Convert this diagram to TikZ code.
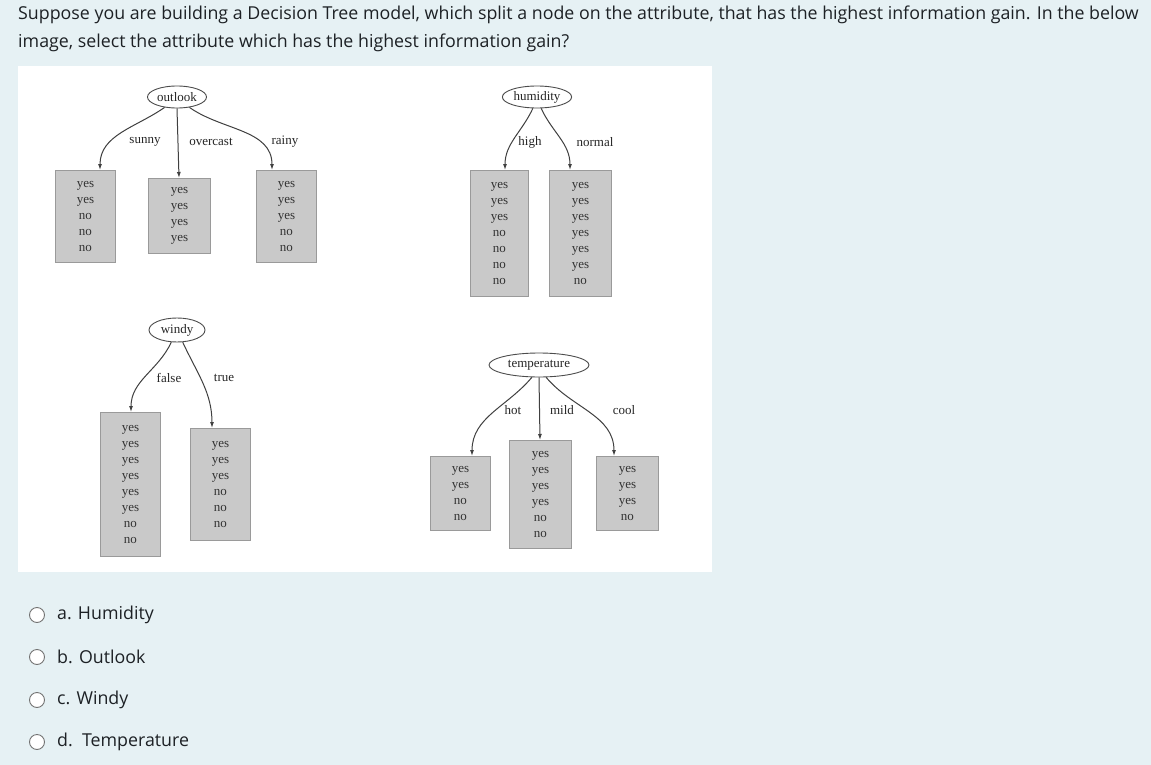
\documentclass[tikz,border=0pt]{standalone}
\usepackage{fontspec}
\setmainfont{Open Sans}
\newfontfamily\ser{Liberation Serif}
\usetikzlibrary{arrows.meta,shapes.geometric}
\definecolor{bg}{HTML}{E6F1F4}
\definecolor{boxf}{HTML}{C9C9C9}
\definecolor{boxd}{HTML}{9A9A9A}
\definecolor{txt}{HTML}{1D2125}
\tikzset{
 leaf/.style={draw=boxd,fill=boxf,line width=0.9pt,inner sep=0pt,anchor=north west,font=\ser\fontsize{13}{16}\selectfont,text=black!80,align=center},
 attr/.style={draw=black!70,ellipse,line width=0.9pt,inner sep=1pt,font=\ser\fontsize{13}{13}\selectfont,text=black!85},
 br/.style={font=\ser\fontsize{13}{13}\selectfont,text=black!85},
 arr/.style={-{Latex[length=6pt,width=4pt]},line width=1pt,draw=black!75},
 q/.style={font=\fontsize{17.8}{20}\selectfont,text=txt,anchor=west,inner sep=0pt},
 rad/.style={circle,draw=black!55,line width=0.9pt,fill=white,minimum size=15pt,inner sep=0pt}
}
\begin{document}
\begin{tikzpicture}[x=1pt,y=-1pt]
\fill[bg] (0,0) rectangle (1151,765);
\useasboundingbox (0,0) rectangle (1151,765);
\node[q] (q1) at (18,15) {Suppose you are building a Decision Tree model, which split a node on the attribute, that has the highest information gain. In the below};
\node[q] (q2) at (18,43) {image, select the attribute which has the highest information gain?};
\fill[white] (18,66) rectangle (712,572);
% outlook
\node[attr,minimum width=58pt,minimum height=22pt] (o) at (177,97) {outlook};
\node[leaf,minimum width=60pt,minimum height=92pt] (o1) at (55,170) {yes\\yes\\no\\no\\no};
\node[leaf,minimum width=62pt,minimum height=75pt] (o2) at (148,178) {yes\\yes\\yes\\yes};
\node[leaf,minimum width=60pt,minimum height=92pt] (o3) at (256,170) {yes\\yes\\yes\\no\\no};
\coordinate (o1t) at (100,170); \coordinate (o2t) at (179,178); \coordinate (o3t) at (272,170);
\draw[arr] (o.-140) to[out=215,in=90] (o1t);
\draw[arr] (o.south) -- (o2t);
\draw[arr] (o.-40) to[out=-35,in=90] (o3t);
\node[br] (l1) at (145,142) {sunny};
\node[br] (l2) at (211,142) {overcast};
\node[br] (l3) at (285,142) {rainy};
% humidity
\node[attr,minimum width=68pt,minimum height=22pt] (h) at (537,97) {humidity};
\node[leaf,minimum width=58pt,minimum height=126pt] (h1) at (470,170) {yes\\yes\\yes\\no\\no\\no\\no};
\node[leaf,minimum width=62pt,minimum height=126pt] (h2) at (549,170) {yes\\yes\\yes\\yes\\yes\\yes\\no};
\coordinate (h1t) at (505,170); \coordinate (h2t) at (570,170);
\draw[arr] (h.-110) to[out=245,in=90] (h1t);
\draw[arr] (h.-70) to[out=-65,in=90] (h2t);
\node[br] (l4) at (530,142) {high};
\node[br] (l5) at (595,142) {normal};
% windy
\node[attr,minimum width=56pt,minimum height=24pt] (w) at (177,330) {windy};
\node[leaf,minimum width=60pt,minimum height=144pt] (w1) at (100,412) {yes\\yes\\yes\\yes\\yes\\yes\\no\\no};
\node[leaf,minimum width=60pt,minimum height=112pt] (w2) at (190,428) {yes\\yes\\yes\\no\\no\\no};
\coordinate (w1t) at (131,412); \coordinate (w2t) at (212,428);
\draw[arr] (w.-115) to[out=245,in=90] (w1t);
\draw[arr] (w.-65) to[out=-65,in=90] (w2t);
\node[br] (l6) at (169,378) {false};
\node[br] (l7) at (224,378) {true};
% temperature
\node[attr,minimum width=100pt,minimum height=24pt] (t) at (539,365) {temperature};
\node[leaf,minimum width=60pt,minimum height=74pt] (t1) at (430,456) {yes\\yes\\no\\no};
\node[leaf,minimum width=62pt,minimum height=108pt] (t2) at (509,440) {yes\\yes\\yes\\yes\\no\\no};
\node[leaf,minimum width=62pt,minimum height=74pt] (t3) at (596,456) {yes\\yes\\yes\\no};
\coordinate (t1t) at (472,456); \coordinate (t2t) at (540,440); \coordinate (t3t) at (614,456);
\draw[arr] (t.-120) to[out=230,in=90] (t1t);
\draw[arr] (t.south) -- (t2t);
\draw[arr] (t.-60) to[out=-50,in=90] (t3t);
\node[br] (l8) at (513,410) {hot};
\node[br] (l9) at (562,410) {mild};
\node[br] (l10) at (624,410) {cool};
% options
\foreach \y/\t [count=\i] in {615/a. Humidity,657/b. Outlook,700/c. Windy,742/d.\ \ Temperature}{
  \node[rad] (r\i) at (37,\y) {};
  \node[q] (o\i t) at (57,\y) {\t};
}
\end{tikzpicture}
\end{document}
